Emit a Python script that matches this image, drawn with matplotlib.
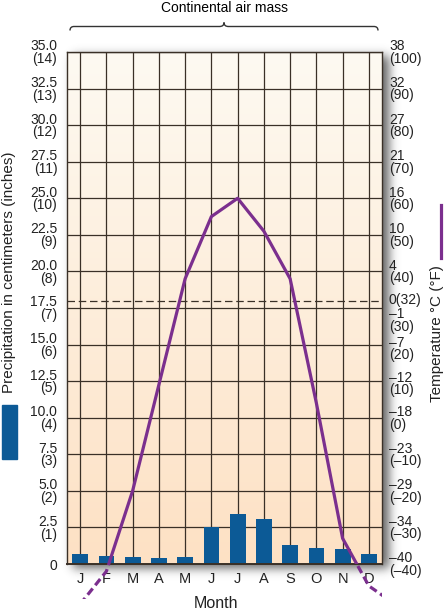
import math
import numpy as np
import matplotlib
matplotlib.use('Agg')
import matplotlib.pyplot as plt
import matplotlib.transforms as mtransforms
from matplotlib.patches import Rectangle, PathPatch
from matplotlib.path import Path
from matplotlib.lines import Line2D

plt.rcParams['font.family'] = ['Liberation Sans', 'DejaVu Sans']
plt.rcParams['font.size'] = 10

months = ['J', 'F', 'M', 'A', 'M', 'J', 'J', 'A', 'S', 'O', 'N', 'D']
precip_cm = [0.68, 0.53, 0.48, 0.39, 0.48, 2.55, 3.4, 3.08, 1.32, 1.11, 1.03, 0.68]
temp_f = [-51, -42, -20, 9, 38, 55, 60, 51, 38, 4, -33, -46]

# axis scales
cm_ticks = [0, 2.5, 5.0, 7.5, 10.0, 12.5, 15.0, 17.5, 20.0, 22.5, 25.0, 27.5, 30.0, 32.5, 35.0]
inch_ticks = [0, 1, 2, 3, 4, 5, 6, 7, 8, 9, 10, 11, 12, 13, 14]
f_ticks = [-40, -30, -20, -10, 0, 10, 20, 30, 32, 40, 50, 60, 70, 80, 90, 100]
c_ticks = [-40, -34, -29, -23, -18, -12, -7, -1, 0, 4, 10, 16, 21, 27, 32, 38]
freezing_f = 32

bar_color = '#0c5a96'
purple = '#7b2f8e'
grid_color = '#3a3027'

W, H = 448, 614
fig = plt.figure(figsize=(W / 100, H / 100), dpi=100)
fig.patch.set_facecolor('white')


def fx(px):
    return px / W


def fy(py):
    return 1 - py / H


L, R, T, B = 67, 382, 52, 564

# soft drop shadow behind the plot panel
sx0, sx1, sy0, sy1 = 50, 418, 38, 594
sh_ax = fig.add_axes([fx(sx0), fy(sy1), (sx1 - sx0) / W, (sy1 - sy0) / H], zorder=-1)
sh_ax.axis('off')
erf = np.vectorize(math.erf)
xs = np.arange(sx0, sx1) + 0.5
ys = np.arange(sy0, sy1) + 0.5
sig = 5.0 * math.sqrt(2)
dx, dy = 6, 4
gx = 0.5 * (erf((xs - (L + dx)) / sig) - erf((xs - (R + dx)) / sig))
gy = 0.5 * (erf((ys - (T + dy)) / sig) - erf((ys - (B + dy)) / sig))
shadow = np.zeros((len(ys), len(xs), 4))
shadow[..., :3] = 0.28
shadow[..., 3] = 0.85 * np.outer(gy, gx)
sh_ax.imshow(shadow, extent=[0, 1, 0, 1], aspect='auto', origin='upper')
sh_ax.set_xlim(0, 1)
sh_ax.set_ylim(0, 1)

ax = fig.add_axes([fx(L), fy(B), (R - L) / W, (B - T) / H])
x = np.arange(len(months))

# warm gradient background
grad = np.linspace(0, 1, 256)[:, None, None]
top_c = np.array([253, 250, 242]) / 255
bot_c = np.array([253, 225, 196]) / 255
ax.imshow(top_c + (bot_c - top_c) * grad, extent=[-0.5, 11.5, 0, 35],
          aspect='auto', origin='upper', zorder=0)

ax.bar(x, precip_cm, width=0.6, color=bar_color, zorder=2)

ax.set_xlim(-0.5, 11.5)
ax.set_ylim(0, 35)
ax.set_xticks(x)
ax.set_xticklabels(months, fontsize=10.5)
ax.set_yticks(cm_ticks)
left_labels = ['0'] + [f'{c:.1f}\n({i})' for c, i in zip(cm_ticks[1:], inch_ticks[1:])]
ax.set_yticklabels(left_labels)
for t in ax.get_yticklabels():
    t.set_linespacing(0.88)
ax.set_axisbelow(True)
ax.grid(True, color=grid_color, lw=0.9)
ax.tick_params(axis='y', length=0, pad=7, colors='#222222')
ax.tick_params(axis='x', length=0, pad=6, colors='#222222')
for s in ax.spines.values():
    s.set_color(grid_color)
    s.set_linewidth(1.0)
ax.spines['bottom'].set_linewidth(1.4)

# temperature on a Fahrenheit twin scale
ax2 = ax.twinx()
ax2.set_ylim(-40, 100)
ax2.set_yticks(f_ticks)
right_labels = []
for f, c in zip(f_ticks, c_ticks):
    fs = str(f).replace('-', '\u2013')
    cs = str(c).replace('-', '\u2013')
    if f == freezing_f:
        right_labels.append(f'{cs}({fs})')
    else:
        right_labels.append(f'{cs}\n({fs})')
ax2.set_yticklabels(right_labels)
ax2.tick_params(axis='y', length=0, pad=5, colors='#222222')
for s in ax2.spines.values():
    s.set_visible(False)
# labels around the freezing line are nudged apart, as in the original
nudge = {32: 0.02, 30: -0.12, 20: -0.04, 10: -0.02}
for f, t in zip(f_ticks, ax2.get_yticklabels()):
    t.set_linespacing(0.85)
    if f in nudge:
        off = mtransforms.ScaledTranslation(0, nudge[f], fig.dpi_scale_trans)
        t.set_transform(t.get_transform() + off)

ax2.axhline(freezing_f, color=grid_color, lw=0.9, dashes=(6, 3), zorder=1)

# the curve runs on into the next January and fades out below the axis as dashes
x_ext = list(x) + [12]
t_ext = temp_f + [temp_f[0]]
ax2.plot(x_ext, t_ext, color=purple, lw=2.3, zorder=3)
dash_line, = ax2.plot(x_ext, t_ext, color=purple, lw=2.3, dashes=(2.5, 1.3), zorder=3)
dash_line.set_clip_path(Rectangle((-0.5, -49.6), 12, 9.6, transform=ax2.transData))

# header with brace
fig.text(fx(224), fy(8), 'Continental air mass', ha='center', va='center', fontsize=10)
bx0, bx1, bm, by, bh = 70, 378, 224, 26.5, 4
brace = [(bx0, by + bh), (bx0, by), (bx0 + 4, by), (bm - 4.5, by), (bm, by), (bm, by - bh),
         (bm, by), (bm + 4.5, by), (bx1 - 4, by), (bx1, by), (bx1, by + bh)]
codes = [Path.MOVETO, Path.CURVE3, Path.CURVE3, Path.LINETO, Path.CURVE3, Path.CURVE3,
         Path.CURVE3, Path.CURVE3, Path.LINETO, Path.CURVE3, Path.CURVE3]
brace_path = Path([(fx(px), fy(py)) for px, py in brace], codes)
fig.add_artist(PathPatch(brace_path, transform=fig.transFigure, fill=False,
                         lw=1.0, ec='#333333'))

# axis titles and key swatches
fig.text(fx(216), fy(603), 'Month', ha='center', va='center', fontsize=11.5, color='#222222')
fig.text(fx(9), fy(272), 'Precipitation in centimeters (inches)', rotation=90,
         ha='center', va='center', fontsize=11, color='#222222')
fig.add_artist(Rectangle((fx(2), fy(459)), 15 / W, 54 / H, transform=fig.transFigure,
                         color=bar_color))
fig.text(fx(437), fy(334), 'Temperature \u00b0C (\u00b0F)', rotation=90,
         ha='center', va='center', fontsize=11, color='#222222')
fig.add_artist(Line2D([fx(441), fx(441)], [fy(205), fy(258)], color=purple, lw=2.3,
                      transform=fig.transFigure))

fig.savefig('out.png', dpi=100)
